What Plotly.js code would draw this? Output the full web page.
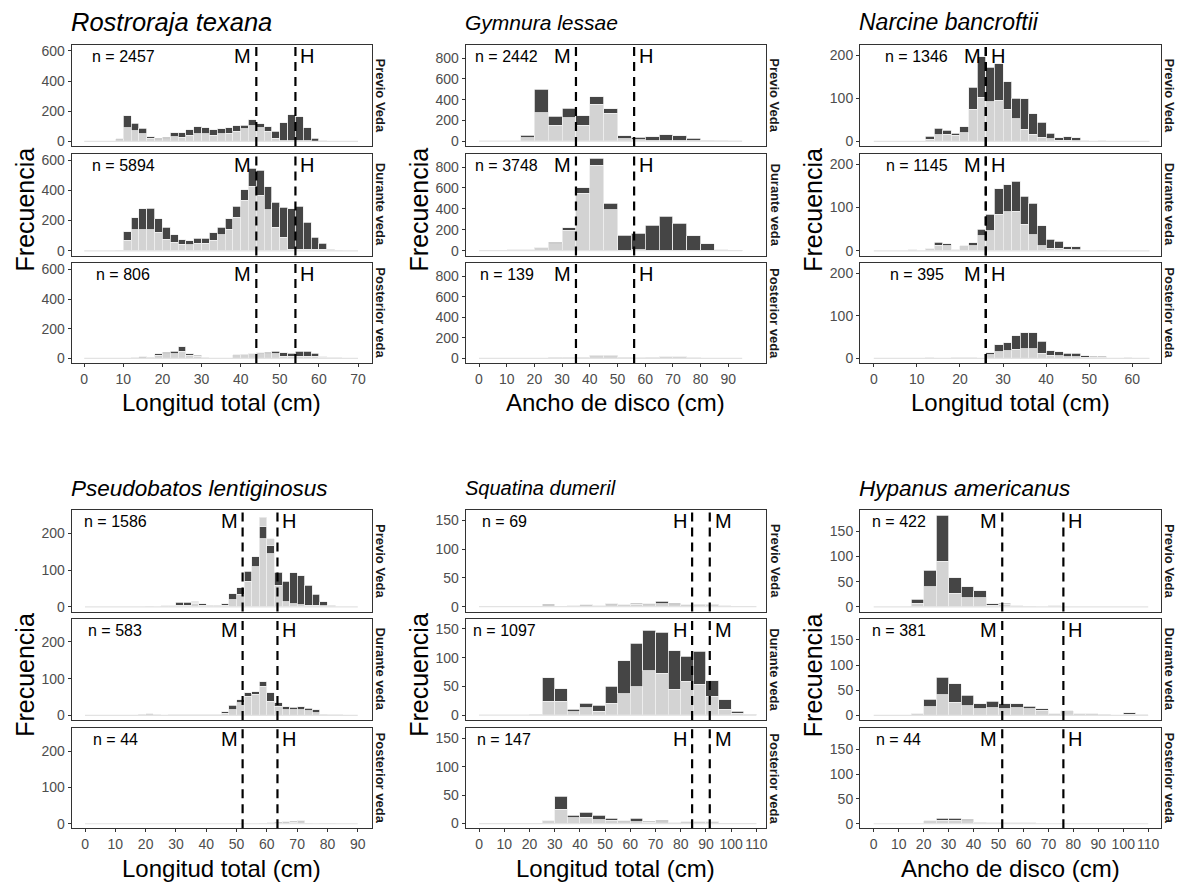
<!DOCTYPE html>
<html><head><meta charset="utf-8">
<script src="https://cdn.plot.ly/plotly-3.0.1.min.js"></script>
<style>html,body{margin:0;padding:0;background:#fff}#chart{width:1181px;height:884px}</style>
</head><body><div id="chart"></div>
<script>
// ---------------- DATA ----------------
const periods = ['Previo Veda', 'Durante veda', 'Posterior veda'];

// Rostroraja texana (Longitud total, 2 cm bins)
const rtBins = [0,2,4,6,8,10,12,14,16,18,20,22,24,26,28,30,32,34,36,38,40,42,44,46,48,50,52,54,56,58,60,62,64,66,68];
const rtPrevLight = [0,0,0,0,10,89,71,49,22,11,18,31,27,42,49,49,42,49,53,67,82,104,89,67,22,3,5,5,3,2,3,0,0,0,0];
const rtPrevDark  = [0,0,0,0,8,80,49,38,9,9,9,27,31,34,49,40,34,33,36,35,25,40,27,31,45,121,173,159,86,18,0,0,0,0,0];
const rtDurLight  = [0,0,0,0,3,71,138,138,138,122,78,56,44,40,49,49,71,107,144,222,333,427,367,271,156,89,11,11,11,11,11,6,3,0,0];
const rtDurDark   = [0,0,0,0,0,56,80,140,144,89,78,51,29,27,35,35,49,49,67,71,71,117,166,151,166,200,267,282,178,78,38,5,0,0,0];
const rtPostLight = [0,0,0,0,0,0,3,5,7,20,30,33,48,22,13,5,2,2,2,25,28,30,30,30,30,13,13,13,13,13,7,6,3,2,2];
const rtPostDark  = [0,0,0,0,0,0,0,6,0,10,13,15,30,8,9,0,0,0,0,0,0,0,9,13,18,26,22,35,35,22,4,0,0,0,0];
const rtN = [2457, 5894, 806];
const rtXTicks = [0,10,20,30,40,50,60,70];
const rtYTicks = [0,200,400,600];

// Gymnura lessae (Ancho de disco, 5 cm bins)
const glBins = [0,5,10,15,20,25,30,35,40,45,50,55,60,65,70,75,80,85,90];
const glPrevLight = [0,0,0,35,275,152,226,152,355,271,23,13,3,3,3,3,4,4,2];
const glPrevDark  = [0,0,0,23,225,87,93,93,71,39,32,26,42,58,52,26,6,0,0];
const glDurLight  = [0,0,8,10,28,65,195,550,820,390,5,10,5,5,5,3,3,10,5];
const glDurDark   = [0,0,0,0,0,15,25,50,65,65,145,155,240,325,260,142,62,0,0];
const glPostLight = [0,0,0,0,0,8,12,12,28,28,10,5,8,15,15,5,2,0,0];
const glPostDark  = [0,0,0,0,0,0,0,0,0,0,0,0,0,0,0,0,0,0,0];
const glN = [2442, 3748, 139];
const glXTicks = [0,10,20,30,40,50,60,70,80,90];
const glYTicks = [0,200,400,600,800];

// Narcine bancroftii (Longitud total, 2 cm bins)
const nbBins = [0,2,4,6,8,10,12,14,16,18,20,22,24,26,28,30,32,34,36,38,40,42,44,46,48,50,52,54,56,58,60,62];
const nbPrevLight = [0,0,0,0,0,0,5,15,16,14,20,75,102,92,95,74,52,28,16,10,6,3,3,2,2,0,1,0,0,0,0,0];
const nbPrevDark  = [0,0,0,0,0,0,7,15,10,5,14,51,94,80,85,64,48,71,48,34,13,6,8,6,0,0,0,0,0,0,0,0];
const nbDurLight  = [0,0,0,0,3,0,5,13,12,3,12,12,35,47,85,90,92,62,37,12,6,6,4,3,2,0,2,0,0,0,0,0];
const nbDurDark   = [0,0,0,0,0,0,0,7,5,0,0,7,15,37,58,63,69,64,73,46,21,16,6,6,0,0,0,0,0,0,0,0];
const nbPostLight = [0,0,0,0,0,0,2,0,0,2,2,2,0,9,16,18,22,23,23,12,8,6,4,4,3,3,3,0,0,2,0,0];
const nbPostDark  = [0,0,0,0,0,0,0,0,0,0,0,0,0,4,16,19,32,37,37,28,10,10,8,8,3,2,2,0,0,0,0,0];
const nbN = [1346, 1145, 395];
const nbXTicks = [0,10,20,30,40,50,60];
const nbYTicks = [0,100,200];

// Pseudobatos lentiginosus (Longitud total, 2.5 cm bins)
const plBins = [0,2.5,5,7.5,10,12.5,15,17.5,20,22.5,25,27.5,30,32.5,35,37.5,40,42.5,45,47.5,50,52.5,55,57.5,60,62.5,65,67.5,70,72.5,75,77.5,80,82.5,85,87.5];
const plPrevLight = [0,0,0,0,0,0,0,0,2,0,3,3,5,5,10,5,3,5,4,20,34,70,109,186,145,59,14,8,6,5,4,3,4,0,0,0];
const plPrevDark  = [0,0,0,0,0,0,0,0,0,0,0,0,7,8,3,3,2,0,4,16,18,27,27,32,23,36,56,85,79,54,30,11,0,0,0,0];
const plPrevUpper = [0,0,0,0,0,0,0,0,0,0,0,0,0,0,2,0,0,0,0,0,0,0,0,26,18,0,0,0,0,0,0,0,0,0,0,0];
const plDurLight  = [0,0,0,0,0,0,0,3,5,2,0,2,2,2,2,2,2,2,6,16,34,52,58,79,38,25,16,16,16,12,7,3,2,2,0,0];
const plDurDark   = [0,0,0,0,0,0,0,0,0,0,0,0,0,0,0,0,0,0,4,12,9,9,7,13,23,9,7,6,7,7,9,0,0,0,0,0];
const plPostLight = [0,0,0,0,0,0,0,0,0,0,0,0,0,0,0,0,0,0,0,0,0,0,0,2,3,2,3,4,5,2,0,2,2,0,0,0];
const plPostDark  = [0,0,0,0,0,0,0,0,0,0,0,0,0,0,0,0,0,0,0,0,0,0,0,0,0,2,2,3,3,0,0,0,0,0,0,0];
const plN = [1586, 583, 44];
const plXTicks = [0,10,20,30,40,50,60,70,80,90];
const plYTicks = [0,100,200];

// Squatina dumeril (Longitud total, 5 cm bins)
const sdBins = [0,5,10,15,20,25,30,35,40,45,50,55,60,65,70,75,80,85,90,95,100,105];
const sdPrevLight = [0,0,0,0,1,2,1,2,2,2,3,3,4,3,5,3,3,3,4,2,1,0];
const sdPrevDark  = [0,0,0,0,0,2,0,0,1,0,2,0,2,2,4,3,0,1,0,0,0,0];
const sdDurLight  = [0,0,0,0,2,24,24,6,13,7,21,37,49,77,73,45,59,54,33,10,3,2];
const sdDurDark   = [0,0,0,0,0,41,22,4,8,10,29,58,76,71,71,67,43,57,27,17,4,0];
const sdPostLight = [0,0,0,0,0,5,25,10,11,7,6,3,3,2,3,1,3,3,3,0,0,0];
const sdPostDark  = [0,0,0,0,0,0,23,5,9,8,3,2,6,2,3,0,0,0,0,0,0,0];
const sdN = [69, 1097, 147];
const sdXTicks = [0,10,20,30,40,50,60,70,80,90,100,110];
const sdYTicks = [0,50,100,150];

// Hypanus americanus (Ancho de disco, 5 cm bins)
const haBins = [0,5,10,15,20,25,30,35,40,45,50,55,60,65,70,75,80,85,90,95,100,105];
const haPrevLight = [0,0,0,7,40,91,27,18,18,3,5,2,1,0,2,0,0,0,0,0,0,0];
const haPrevDark  = [0,0,0,8,33,91,31,22,14,3,2,0,0,0,0,0,0,0,0,0,0,0];
const haDurLight  = [0,0,0,3,17,41,26,19,13,15,13,15,13,10,3,9,3,3,2,0,2,1];
const haDurDark   = [0,0,0,0,15,35,37,21,10,13,10,8,5,3,0,0,0,0,0,0,3,0];
const haPostLight = [0,0,0,0,6,7,7,6,3,2,2,2,2,0,0,0,0,0,0,0,0,0];
const haPostDark  = [0,0,0,0,0,4,4,3,0,0,0,0,0,0,0,0,0,0,0,0,0,0];
const haN = [422, 381, 44];
const haXTicks = [0,10,20,30,40,50,60,70,80,90,100,110];
const haYTicks = [0,50,100,150];

// maturity size reference lines (M / H)
const rtLines = {M:44, H:54};
const glLines = {M:35, H:56};
const nbLines = {M:26, H:26};
const plLines = {M:52, H:63.5};
const sdLines = {M:91.5, H:84.5};
const haLines = {M:51.5, H:76};

// ---------------- LAYOUT / BUILD ----------------
const FONT = 'Liberation Sans, Arial, sans-serif';
const W = 1181, H = 884;
const LIGHT = '#D3D3D3', DARK = '#454545', EDGE = '#EDEDED';
const colX = [[71.7,371.7],[465.7,766],[860,1160.7]];
const rowY = [[[44.5,146],[153.5,255.5],[263,363]],[[510,611.5],[618.5,720],[728.3,828.3]]];

const species = [
  {title:'Rostroraja texana', tsize:25.5, row:0, col:0, bins:rtBins, bw:2, xr:[-3.2,73.5], yr:[-31,643], xt:rtXTicks, yt:rtYTicks, xlab:'Longitud total (cm)', lines:rtLines, n:rtN,
   light:[rtPrevLight,rtDurLight,rtPostLight], dark:[rtPrevDark,rtDurDark,rtPostDark], upper:[null,null,null]},
  {title:'Gymnura lessae', tsize:21, row:0, col:1, bins:glBins, bw:5, xr:[-4.8,103.6], yr:[-46,930], xt:glXTicks, yt:glYTicks, xlab:'Ancho de disco (cm)', lines:glLines, n:glN,
   light:[glPrevLight,glDurLight,glPostLight], dark:[glPrevDark,glDurDark,glPostDark], upper:[null,null,null]},
  {title:'Narcine bancroftii', tsize:23, row:0, col:2, bins:nbBins, bw:2, xr:[-3.2,66.6], yr:[-10.7,224.7], xt:nbXTicks, yt:nbYTicks, xlab:'Longitud total (cm)', lines:nbLines, n:nbN,
   light:[nbPrevLight,nbDurLight,nbPostLight], dark:[nbPrevDark,nbDurDark,nbPostDark], upper:[null,null,null]},
  {title:'Pseudobatos lentiginosus', tsize:22.5, row:1, col:0, bins:plBins, bw:2.5, xr:[-4.4,94.6], yr:[-12.6,264], xt:plXTicks, yt:plYTicks, xlab:'Longitud total (cm)', lines:plLines, n:plN,
   light:[plPrevLight,plDurLight,plPostLight], dark:[plPrevDark,plDurDark,plPostDark], upper:[plPrevUpper,null,null]},
  {title:'Squatina dumeril', tsize:20, row:1, col:1, bins:sdBins, bw:5, xr:[-5.3,113.8], yr:[-8.4,168], xt:sdXTicks, yt:sdYTicks, xlab:'Longitud total (cm)', lines:sdLines, n:sdN,
   light:[sdPrevLight,sdDurLight,sdPostLight], dark:[sdPrevDark,sdDurDark,sdPostDark], upper:[null,null,null]},
  {title:'Hypanus americanus', tsize:22.5, row:1, col:2, bins:haBins, bw:5, xr:[-5.5,115], yr:[-9.2,192.5], xt:haXTicks, yt:haYTicks, xlab:'Ancho de disco (cm)', lines:haLines, n:haN,
   light:[haPrevLight,haDurLight,haPostLight], dark:[haPrevDark,haDurDark,haPostDark], upper:[null,null,null]}
];

const px = v => v / W;
const py = v => 1 - v / H;
const nz = arr => arr.map(v => (v === 0 ? null : v));

const traces = [];
const layout = {
  width: W, height: H, margin: {l:0, r:0, t:0, b:0},
  paper_bgcolor: '#fff', plot_bgcolor: '#fff', showlegend: false,
  barmode: 'stack', bargap: 0, font: {family: FONT, color: '#000'},
  annotations: [], shapes: []
};

species.forEach((s, si) => {
  const cx = colX[s.col];
  layout.annotations.push({text: '<i>' + s.title + '</i>', xref:'paper', yref:'paper',
    x: px(cx[0] - 3), y: py(s.row === 0 ? 22 : 488), xanchor:'left', yanchor:'middle', showarrow:false,
    font:{family:FONT, size:s.tsize, color:'#000'}});
  const yTop = rowY[s.row][0][0], yBot = rowY[s.row][2][1];
  layout.annotations.push({text:'Frecuencia', xref:'paper', yref:'paper', x: px(cx[0] - 47), y: py((yTop + yBot) / 2 + 6),
    xanchor:'center', yanchor:'middle', textangle:-90, showarrow:false, font:{family:FONT, size:25, color:'#000'}});
  layout.annotations.push({text:s.xlab, xref:'paper', yref:'paper', x: px((cx[0] + cx[1]) / 2), y: py(yBot + 40),
    xanchor:'center', yanchor:'middle', showarrow:false, font:{family:FONT, size:24, color:'#000'}});

  for (let f = 0; f < 3; f++) {
    const idx = si * 3 + f + 1;
    const xa = 'x' + (idx === 1 ? '' : idx), ya = 'y' + (idx === 1 ? '' : idx);
    const xk = 'xaxis' + (idx === 1 ? '' : idx), yk = 'yaxis' + (idx === 1 ? '' : idx);
    const ry = rowY[s.row][f];
    const bottom = f === 2;
    layout[xk] = {domain:[px(cx[0]), px(cx[1])], range:s.xr, anchor:ya, showgrid:false, zeroline:false,
      showline:true, mirror:true, linecolor:'#333', linewidth:1,
      ticks: bottom ? 'outside' : '', ticklen:3, tickcolor:'#333', tickmode:'array', tickvals:s.xt, tickangle:0,
      showticklabels: bottom, tickfont:{family:FONT, size:14, color:'#4D4D4D'}, fixedrange:true};
    layout[yk] = {domain:[py(ry[1]), py(ry[0])], range:s.yr, anchor:xa, showgrid:false, zeroline:false,
      showline:true, mirror:true, linecolor:'#333', linewidth:1,
      ticks:'outside', ticklen:3, tickcolor:'#333', tickmode:'array', tickvals:s.yt,
      tickfont:{family:FONT, size:14, color:'#4D4D4D'}, fixedrange:true};

    const last = s.bins[s.bins.length - 1] + s.bw;
    traces.push({type:'scatter', mode:'lines', x:[s.bins[0], last], y:[0, 0], xaxis:xa, yaxis:ya,
      line:{color:'#E3E3E3', width:1.2}, hoverinfo:'skip'});
    const barBase = {type:'bar', x:s.bins, offset:0, width:s.bw, xaxis:xa, yaxis:ya, hoverinfo:'skip'};
    traces.push(Object.assign({}, barBase, {y:nz(s.light[f]), marker:{color:LIGHT, line:{color:EDGE, width:0.8}}}));
    traces.push(Object.assign({}, barBase, {y:nz(s.dark[f]), marker:{color:DARK, line:{color:EDGE, width:0.8}}}));
    if (s.upper[f]) traces.push(Object.assign({}, barBase, {y:nz(s.upper[f]), marker:{color:LIGHT, line:{color:EDGE, width:0.8}}}));

    const L = s.lines;
    const leftKey = L.M <= L.H ? 'M' : 'H';
    const rightKey = leftKey === 'M' ? 'H' : 'M';
    [leftKey, rightKey].forEach((k, j) => {
      layout.shapes.push({type:'line', xref:xa, yref:ya + ' domain', x0:L[k], x1:L[k], y0:0, y1:1,
        line:{color:'#000', width:2.2, dash:'9px,6px'}});
      layout.annotations.push({text:k, xref:xa, yref:ya + ' domain', x:L[k], y:1, yshift:2,
        xanchor: j === 0 ? 'right' : 'left', xshift: j === 0 ? -3 : 3, yanchor:'top', showarrow:false,
        font:{family:FONT, size:20, color:'#000'}});
    });
    layout.annotations.push({text:'n = ' + s.n[f], xref:xa, yref:ya + ' domain', x:10, y:1, yshift:-1,
      xanchor:'center', yanchor:'top', showarrow:false, font:{family:FONT, size:16, color:'#000'}});
    layout.annotations.push({text:'<b>' + periods[f] + '</b>', xref:'paper', yref:'paper', x:px(cx[1] + 9), y:py((ry[0] + ry[1]) / 2),
      xanchor:'center', yanchor:'middle', textangle:90, showarrow:false, font:{family:FONT, size:13, color:'#1A1A1A'}});
  }
});

Plotly.newPlot('chart', traces, layout, {staticPlot:true, displayModeBar:false});
</script>
</body></html>
